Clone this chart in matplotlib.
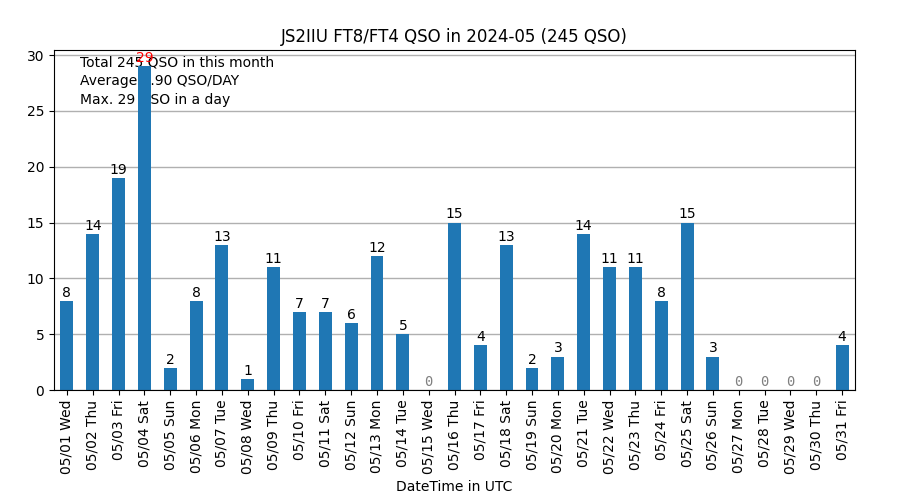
import matplotlib
matplotlib.use("Agg")
import matplotlib.pyplot as plt

days = ["05/01 Wed", "05/02 Thu", "05/03 Fri", "05/04 Sat", "05/05 Sun", "05/06 Mon",
        "05/07 Tue", "05/08 Wed", "05/09 Thu", "05/10 Fri", "05/11 Sat", "05/12 Sun",
        "05/13 Mon", "05/14 Tue", "05/15 Wed", "05/16 Thu", "05/17 Fri", "05/18 Sat",
        "05/19 Sun", "05/20 Mon", "05/21 Tue", "05/22 Wed", "05/23 Thu", "05/24 Fri",
        "05/25 Sat", "05/26 Sun", "05/27 Mon", "05/28 Tue", "05/29 Wed", "05/30 Thu",
        "05/31 Fri"]
qso = [8, 14, 19, 29, 2, 8, 13, 1, 11, 7, 7, 6, 12, 5, 0, 15, 4, 13, 2, 3, 14, 11,
       11, 8, 15, 3, 0, 0, 0, 0, 4]

total = sum(qso)
avg = total / len(qso)
mx = max(qso)

fig = plt.figure(figsize=(9, 5), dpi=100)
ax = fig.add_axes([0.06, 0.22, 0.89, 0.68])
x = list(range(len(days)))
ax.bar(x, qso, width=0.5, color="#1f77b4", zorder=2)
ax.set_axisbelow(True)
ax.yaxis.grid(True, color="#b0b0b0", linewidth=1.0)
ax.set_xlim(-0.5, len(days) - 0.5)
ax.set_ylim(0, mx * 1.05)
ax.set_xticks(x)
ax.set_xticklabels(days, rotation=90, fontsize=10)
ax.tick_params(axis="y", labelsize=10)
ax.set_yticks([0, 5, 10, 15, 20, 25, 30])
ax.set_xlabel("DateTime in UTC", fontsize=10)
ax.set_title(f"JS2IIU FT8/FT4 QSO in 2024-05 ({total} QSO)", fontsize=12)

for xi, v in zip(x, qso):
    if v == 0:
        ax.text(xi, v + 0.1, str(v), ha="center", va="bottom", color="gray",
                family="DejaVu Sans Mono", fontsize=10, zorder=3)
    elif v == mx:
        ax.text(xi, v + 0.1, str(v), ha="center", va="bottom", color="red",
                fontsize=10, zorder=3)
    else:
        ax.text(xi, v + 0.1, str(v), ha="center", va="bottom", color="black",
                fontsize=10, zorder=3)

info = (f"Total {total} QSO in this month\n"
        f"Average {avg:.2f} QSO/DAY\n"
        f"Max. {mx} QSO in a day")
ax.text(0.032, 0.985, info, transform=ax.transAxes, ha="left", va="top",
        fontsize=10, linespacing=1.47, zorder=1)

fig.savefig("out.png", dpi=100)
